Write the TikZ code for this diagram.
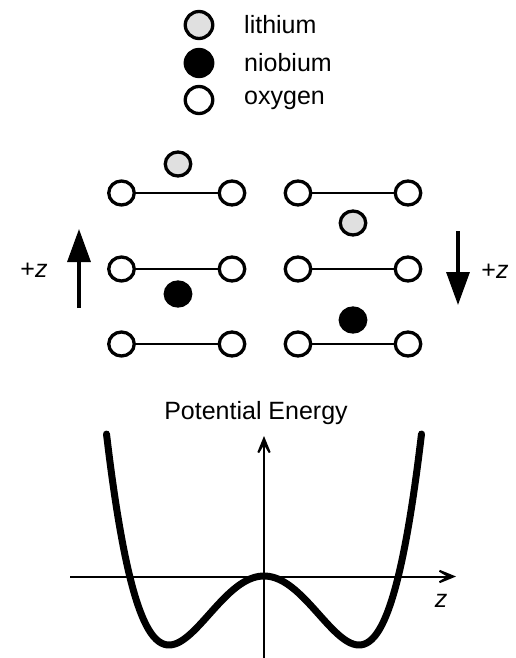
\documentclass[tikz,border=0pt]{standalone}
\usepackage{fontspec}
\setmainfont{Liberation Sans}
\usetikzlibrary{shapes.geometric,arrows.meta}
\tikzset{
  atom/.style={ellipse,draw,line width=3.3pt,minimum width=25.5pt,minimum height=24pt,inner sep=0pt},
  oxy/.style={atom,fill=white},
  lith/.style={atom,fill=black!12},
  niob/.style={atom,fill=black},
  legatom/.style={minimum width=27.5pt,minimum height=27pt},
  bond/.style={line width=2.3pt},
  bigarrow/.style={line width=3.3pt,-{Triangle[length=33pt,width=23pt]}},
  axis/.style={line width=2pt,-{Stealth[length=28pt,width=23pt,inset=19pt]}},
  lbl/.style={font=\fontsize{25}{28}\selectfont,inner sep=0pt},
  curve/.style={line width=7pt,line cap=round,line join=round}
}
\begin{document}
\begin{tikzpicture}[x=1pt,y=-1pt]
\useasboundingbox (0,0) rectangle (515,658);
% legend
\node[lith,legatom] (Li) at (199,25) {};
\node[niob,legatom] (Nb) at (199,63) {};
\node[oxy,legatom] (O) at (199,100) {};
\node[lbl,anchor=west] (tLi) at (244,25) {lithium};
\node[lbl,anchor=west] (tNb) at (244,63) {niobium};
\node[lbl,anchor=west] (tO) at (244,100) {oxygen};
% left structure
\node[lith] (L1) at (178,164) {};
\node[oxy] (a1) at (121.5,193) {};
\node[oxy] (b1) at (232,193) {};
\node[oxy] (a2) at (121.5,269) {};
\node[oxy] (b2) at (232,269) {};
\node[niob] (N1) at (178,294) {};
\node[oxy] (a3) at (121.5,344) {};
\node[oxy] (b3) at (232,344) {};
\draw[bond] (a1) -- (b1);
\draw[bond] (a2) -- (b2);
\draw[bond] (a3) -- (b3);
% right structure
\node[oxy] (c1) at (298,193) {};
\node[oxy] (d1) at (408,193) {};
\node[lith] (L2) at (353,223) {};
\node[oxy] (c2) at (298,269) {};
\node[oxy] (d2) at (408,269) {};
\node[niob] (N2) at (353,320) {};
\node[oxy] (c3) at (298,344) {};
\node[oxy] (d3) at (408,344) {};
\draw[bond] (c1) -- (d1);
\draw[bond] (c2) -- (d2);
\draw[bond] (c3) -- (d3);
% polarization arrows
\coordinate (u0) at (79,308);
\coordinate (u1) at (79,229);
\draw[bigarrow] (u0) -- (u1);
\node[lbl] (pz1) at (34,270) {+\textit{z}};
\coordinate (v0) at (458,231);
\coordinate (v1) at (458,305);
\draw[bigarrow] (v0) -- (v1);
\node[lbl] (pz2) at (495,271) {+\textit{z}};
% potential energy plot
\node[lbl] (pe) at (256,413) {Potential Energy};
\coordinate (yb) at (264,658);
\coordinate (yt) at (264,436);
\coordinate (xl) at (70,576.5);
\coordinate (xr) at (456,576.5);
\draw[axis] (yb) -- (yt);
\draw[axis] (xl) -- (xr);
\node[lbl] (zz) at (441,601) {\textit{z}};
\draw[curve] plot[domain=-157.5:157.5,samples=121,smooth]
  ({264+\x},{576-69*((\x/95)*(\x/95)*(\x/95)*(\x/95)-2*(\x/95)*(\x/95))});
\end{tikzpicture}
\end{document}
